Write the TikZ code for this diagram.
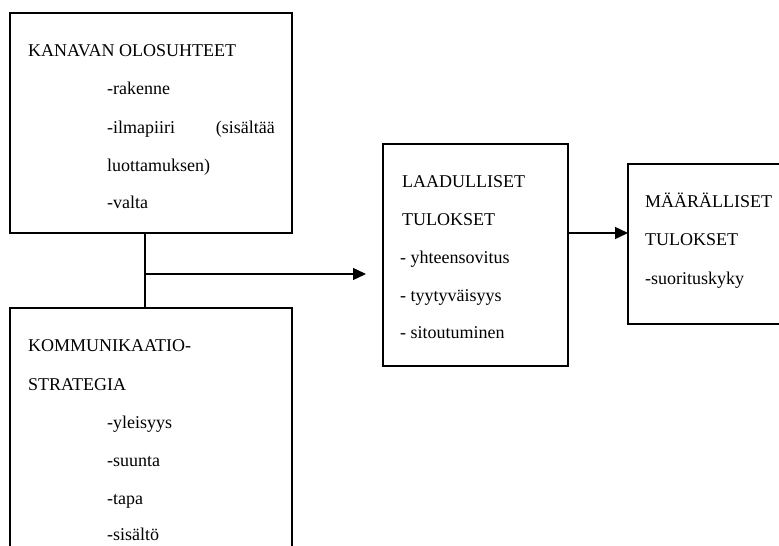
\documentclass[tikz,border=0pt]{standalone}
\usepackage{fontspec}
\setmainfont{Liberation Serif}
\usetikzlibrary{arrows.meta}
\begin{document}
\begin{tikzpicture}[x=1pt,y=-1pt,
  box/.style={draw,line width=1.4pt,anchor=north west,inner sep=0pt,outer sep=0pt},
  txt/.style={anchor=base west,inner sep=0pt,font=\fontsize{18}{20}\selectfont},
  rtxt/.style={anchor=base east,inner sep=0pt,font=\fontsize{18}{20}\selectfont},
  link/.style={line width=1.4pt},
  arrowlink/.style={line width=1.4pt,-{Triangle[length=13pt,width=12pt]}}]
\useasboundingbox[fill=white] (0,0) rectangle (779,546);

% boxes
\node[box,minimum width=282pt,minimum height=220pt] (kanava) at (10,13) {};
\node[box,minimum width=282pt,minimum height=262pt] (strategia) at (10,308) {};
\node[box,minimum width=185pt,minimum height=222pt] (laatu) at (383,144) {};
\node[box,minimum width=172pt,minimum height=160pt] (maara) at (628,164) {};

% texts: channel conditions
\node[txt] (k0) at (28,56) {KANAVAN OLOSUHTEET};
\node[txt] (k1) at (107,94) {-rakenne};
\node[txt] (k2) at (107,133) {-ilmapiiri};
\node[rtxt] (k2b) at (275,133) {(sisältää};
\node[txt] (k3) at (107,171) {luottamuksen)};
\node[txt] (k4) at (107,208) {-valta};

% texts: communication strategy
\node[txt] (s0) at (28,351) {KOMMUNIKAATIO-};
\node[txt] (s1) at (28,390) {STRATEGIA};
\node[txt] (s2) at (107,428) {-yleisyys};
\node[txt] (s3) at (107,466) {-suunta};
\node[txt] (s4) at (107,504) {-tapa};
\node[txt] (s5) at (107,540) {-sisältö};

% texts: qualitative results
\node[txt] (l0) at (402,187) {LAADULLISET};
\node[txt] (l1) at (402,225) {TULOKSET};
\node[txt] (l2) at (400,263) {- yhteensovitus};
\node[txt] (l3) at (400,301) {- tyytyväisyys};
\node[txt] (l4) at (400,338) {- sitoutuminen};

% texts: quantitative results
\node[txt] (m0) at (645,207) {MÄÄRÄLLISET};
\node[txt] (m1) at (645,245) {TULOKSET};
\node[txt] (m2) at (645,284) {-suorituskyky};

% connectors
\coordinate (junction) at (145,274);
\coordinate (tip) at (366,274);
\draw[link] (junction |- kanava.south) -- (junction |- strategia.north);
\draw[arrowlink] (junction) -- (tip);
\draw[arrowlink] (laatu.east |- 0,233) -- (maara.west |- 0,233);
\end{tikzpicture}
\end{document}
